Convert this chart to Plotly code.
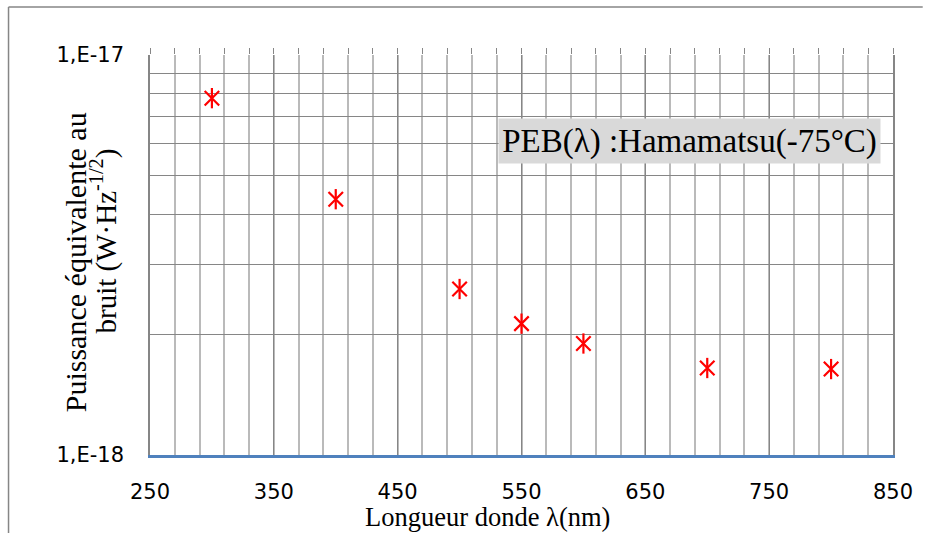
import plotly.graph_objects as go

# Noise equivalent power of the Hamamatsu detector at -75 °C
wavelength_nm = [300, 400, 500, 550, 600, 700, 800]
peb = [7.8e-18, 4.36e-18, 2.6e-18, 2.13e-18, 1.9e-18, 1.65e-18, 1.64e-18]

x_ticks = [250, 350, 450, 550, 650, 750, 850]
y_ticks = [1e-18, 2e-18, 3e-18, 4e-18, 5e-18, 6e-18, 7e-18, 8e-18, 9e-18, 1e-17]
y_tick_text = ["1,E-18", "", "", "", "", "", "", "", "", "1,E-17"]

series_label = "PEB(λ) :Hamamatsu(-75°C)"
x_title = "Longueur donde λ(nm)"
y_title_1 = "Puissance équivalente au"
y_title_2 = "bruit (W·Hz<sup>-1/2</sup>)"

RED = "#FF0000"
GRID_DARK = "#868686"
GRID_LIGHT = "#BABABA"
SERIF = "Liberation Serif, Times New Roman, serif"
SANS = "DejaVu Sans, sans-serif"

fig = go.Figure()

# Star marker = X cross + vertical bar
for sym in ["x-thin-open", "line-ns-open"]:
    fig.add_trace(go.Scatter(
        x=wavelength_nm, y=peb, mode="markers",
        marker=dict(symbol=sym, size=14.5, color=RED,
                    line=dict(color=RED, width=2.2)),
        showlegend=False, hoverinfo="x+y",
    ))

# empty trace so the top tick axis is drawn
fig.add_trace(go.Scatter(x=[], y=[], xaxis="x2", showlegend=False))

fig.update_layout(
    width=925, height=533,
    margin=dict(l=150, r=24, t=55, b=78),
    paper_bgcolor="white", plot_bgcolor="white",
    xaxis=dict(
        range=[250, 850], tickvals=x_ticks,
        showgrid=True, gridcolor=GRID_DARK, gridwidth=1.4,
        minor=dict(tick0=250, dtick=20, showgrid=True,
                   gridcolor=GRID_LIGHT, gridwidth=1.5),
        showline=True, linecolor="#4F81BD", linewidth=2.5,
        ticks="", ticklabelstandoff=16,
        tickfont=dict(family=SANS, size=21, color="black"),
        zeroline=False,
    ),
    xaxis2=dict(
        overlaying="x", matches="x", side="top", anchor="y",
        tick0=250, dtick=20, ticks="outside", ticklen=6,
        tickcolor=GRID_DARK, tickwidth=1.4,
        showticklabels=False, showgrid=False, showline=False,
    ),
    yaxis=dict(
        type="log", range=[-18, -17],
        tickvals=y_ticks, ticktext=y_tick_text,
        showgrid=True, gridcolor=GRID_DARK, gridwidth=1.4,
        showline=True, linecolor=GRID_DARK, linewidth=1.6, mirror=True,
        ticks="", ticklabelstandoff=20,
        tickfont=dict(family=SANS, size=21, color="black"),
        zeroline=False,
    ),
    annotations=[
        dict(text=series_label, xref="paper", yref="paper",
             x=0.7264, y=0.786, xanchor="center", yanchor="middle",
             showarrow=False, bgcolor="#D9D9D9", width=377, height=40,
             borderpad=2, font=dict(family=SERIF, size=33, color="black")),
        dict(text=x_title, xref="paper", yref="paper",
             x=0.4547, y=-0.154, xanchor="center", yanchor="middle",
             showarrow=False, font=dict(family=SERIF, size=26.5, color="black")),
        dict(text=y_title_1, xref="paper", yref="paper", textangle=-90,
             x=-0.1006, y=0.4825, xanchor="center", yanchor="middle",
             showarrow=False, font=dict(family=SERIF, size=30, color="black")),
        dict(text=y_title_2, xref="paper", yref="paper", textangle=-90,
             x=-0.0626, y=0.535, xanchor="center", yanchor="middle",
             showarrow=False, font=dict(family=SERIF, size=29, color="black")),
    ],
    shapes=[
        dict(type="line", xref="paper", yref="paper",
             x0=-0.1904, x1=1.04, y0=1.12, y1=1.12,
             line=dict(color="#868686", width=1.5)),
        dict(type="line", xref="paper", yref="paper",
             x0=-0.1904, x1=-0.1904, y0=1.12, y1=-0.2,
             line=dict(color="#868686", width=1.5)),
    ],
)

fig.write_html("out.html")
